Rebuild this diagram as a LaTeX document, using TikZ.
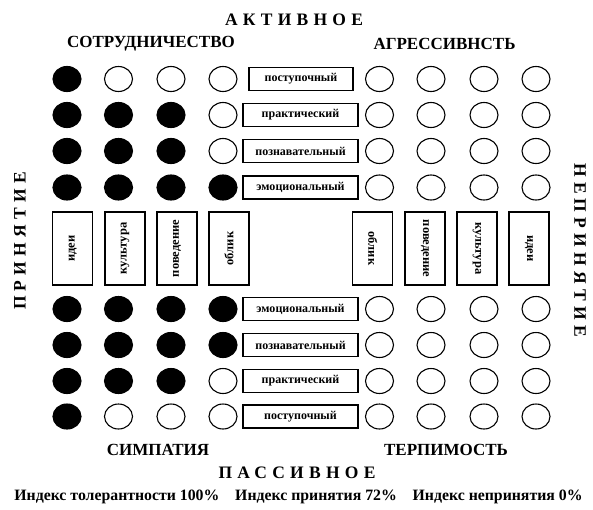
\documentclass[tikz,border=0pt]{standalone}
\usepackage{fontspec}
\setmainfont{Liberation Serif}
\newfontfamily\spaced[LetterSpace=30]{Liberation Serif}
\usetikzlibrary{shapes.geometric}
\tikzset{
  x=1pt,y=-1pt,
  dot/.style={ellipse,draw,line width=1.1pt,minimum width=28pt,minimum height=25pt,inner sep=0pt},
  full/.style={dot,fill=black},
  empty/.style={dot,fill=white},
  rowbox/.style={rectangle,draw,line width=1.2pt,minimum width=115pt,minimum height=23pt,inner sep=0pt,font=\bfseries\fontsize{12}{13}\selectfont},
  colbox/.style={rectangle,draw,line width=1.2pt,minimum width=40pt,minimum height=73pt,inner sep=0pt,font=\bfseries\fontsize{12.5}{14}\selectfont},
  heading/.style={font=\bfseries\fontsize{17}{19}\selectfont,inner sep=0pt},
  bigword/.style={font=\spaced\bfseries\fontsize{17.5}{19}\selectfont,inner sep=0pt},
  index/.style={font=\bfseries\fontsize{15.8}{17}\selectfont,inner sep=0pt}
}
\begin{document}
\begin{tikzpicture}
\useasboundingbox (0,0) rectangle (593,509);
% headings
\node[bigword] (act) at (294,20) {АКТИВНОЕ};
\node[heading] (sotr) at (151,44) {СОТРУДНИЧЕСТВО};
\node[heading] (agr) at (444.5,44) {АГРЕССИВНСТЬ};
\node[heading] (simp) at (158,450) {СИМПАТИЯ};
\node[heading] (terp) at (446,450) {ТЕРПИМОСТЬ};
\node[bigword] (pass) at (297,473) {ПАССИВНОЕ};
\node[index] (idx) at (298.5,497) {Индекс толерантности 100\%\quad Индекс принятия 72\%\quad Индекс непринятия 0\%};
\node[bigword,rotate=90] (prin) at (20,241) {ПРИНЯТИЕ};
\node[bigword,rotate=-90] (neprin) at (580,250) {НЕПРИНЯТИЕ};
% top middle boxes
\node[rowbox,minimum width=104pt] (t1) at (301,79) {поступочный};
\node[rowbox] (t2) at (300.5,115) {практический};
\node[rowbox] (t3) at (300.5,151) {познавательный};
\node[rowbox] (t4) at (300.5,187.5) {эмоциональный};
% bottom middle boxes
\node[rowbox] (b1) at (300.5,309) {эмоциональный};
\node[rowbox] (b2) at (300.5,345) {познавательный};
\node[rowbox] (b3) at (300.5,381) {практический};
\node[rowbox] (b4) at (300.5,416.5) {поступочный};
% column boxes
\node[colbox] (l1) at (72.7,248.5) {\rotatebox{90}{идеи}};
\node[colbox] (l2) at (125,248.5) {\rotatebox{90}{культура}};
\node[colbox] (l3) at (177,248.5) {\rotatebox{90}{поведение}};
\node[colbox] (l4) at (229,248.5) {\rotatebox{90}{облик}};
\node[colbox] (r1) at (372.7,248.5) {\rotatebox{-90}{облик}};
\node[colbox] (r2) at (425,248.5) {\rotatebox{-90}{поведение}};
\node[colbox] (r3) at (477,248.5) {\rotatebox{-90}{культура}};
\node[colbox] (r4) at (529,248.5) {\rotatebox{-90}{идеи}};
% circles: rows top to bottom, style per left column
\foreach \y/\a/\b/\c/\d [count=\i] in {
  79/full/empty/empty/empty,
  115/full/full/full/empty,
  151/full/full/full/empty,
  187.5/full/full/full/full,
  309/full/full/full/full,
  345/full/full/full/full,
  381/full/full/full/empty,
  416.5/full/empty/empty/empty}{
  \node[\a] (L\i a) at (67,\y) {};
  \node[\b] (L\i b) at (118.5,\y) {};
  \node[\c] (L\i c) at (171,\y) {};
  \node[\d] (L\i d) at (223,\y) {};
  \node[empty] (R\i a) at (379.5,\y) {};
  \node[empty] (R\i b) at (431,\y) {};
  \node[empty] (R\i c) at (484,\y) {};
  \node[empty] (R\i d) at (536,\y) {};
}
\end{tikzpicture}
\end{document}
